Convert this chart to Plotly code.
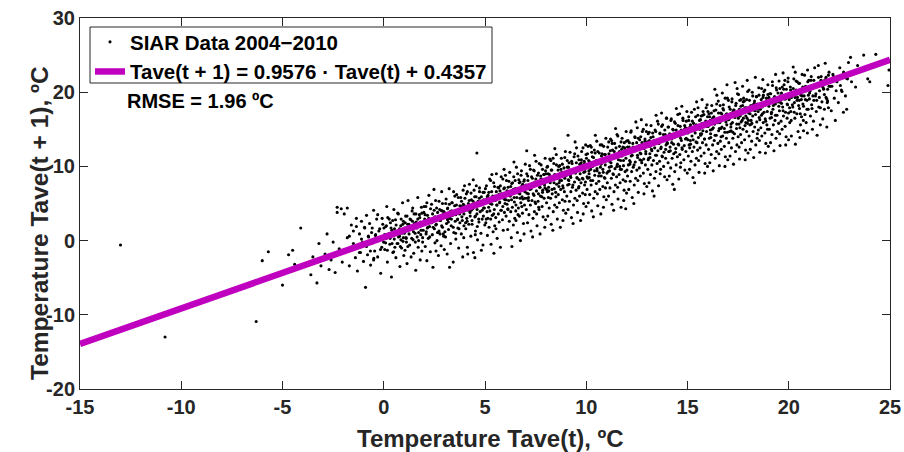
import plotly.graph_objects as go

# Fit coefficients (from legend) and RMSE
fit_slope = 0.9576
fit_intercept = 0.4357
fit_x_range = [-15, 25]
rmse_text = "RMSE = 1.96 ºC"
series_name = "SIAR Data 2004\u22122010"
fit_name = "Tave(t + 1) = 0.9576 \u00b7 Tave(t) + 0.4357"
x_title = "Temperature Tave(t), ºC"
y_title = "Temperature Tave(t + 1), ºC"

x_ticks = [-15, -10, -5, 0, 5, 10, 15, 20, 25]
y_ticks = [-20, -10, 0, 10, 20, 30]

# SIAR daily mean temperature pairs (Tave(t), Tave(t+1))
siar_pairs = [
(-13.0,-0.6),(-10.8,-13.0),(-6.3,-10.9),(-6.0,-2.7),(-5.7,-1.5),(-5.0,-6.0),(-4.7,-1.9),(-4.5,-1.3),(-4.4,-3.2),(-4.1,1.7),(-3.6,-4.6),(-3.3,-5.7),(-3.5,-2.2),(-3.2,-0.4),(-3.1,-3.4),
(-2.9,-1.8),(-2.8,0.9),(-2.7,-3.9),(-2.6,-2.6),(-2.5,-0.2),(-2.4,-4.3),(-2.3,4.5),(-2.3,3.8),(-2.2,-1.1),(-2.1,4.3),(-2.05,-2.9),
(-1.95,3.6),(-1.9,-1.4),(-1.8,0.4),(-1.8,4.4),(-1.7,-3.4),(-1.6,2.1),(-1.55,-0.8),(-1.5,1.3),(-1.4,-2.3),(-1.35,3.0),(-1.3,-4.1),(-1.2,0.9),(-1.15,-1.6),(-1.1,2.6),(-1.05,-0.2),(-1.0,-2.8),(-0.9,-6.3),
(-0.95,1.8),(-0.9,-0.7),(-0.85,3.4),(-0.8,-1.9),(-0.75,0.5),(-0.7,2.3),(-0.65,-3.3),(-0.6,1.1),(-0.55,-0.3),(-0.5,4.1),(-0.45,-1.4),(-0.4,0.8),(-0.35,2.9),(-0.3,-2.2),(-0.25,0.1),(-0.2,1.6),(-0.15,-4.4),(-0.1,-0.9),(-0.05,2.2),(-0.02,0.4),(-0.5,-2.6),(-0.3,3.5),
(0.05,-1.2),(0.1,1.9),(0.12,0.3),(0.18,-2.9),(0.2,3.1),(0.25,0.9),(0.3,-0.5),(0.33,2.4),(0.38,-4.9),(0.4,1.4),(0.45,-1.6),(0.5,4.2),(0.52,0.2),(0.58,2.8),(0.6,-2.3),(0.65,1.0),(0.7,-0.4),(0.72,3.6),(0.78,0.6),(0.8,-3.5),(0.84,2.0),(0.88,-1.0),(0.9,1.3),(0.93,5.1),(0.95,-0.1),(0.97,2.6),(0.99,-2.0),(0.15,4.6),(0.55,-0.9),(0.85,0.1),
(1.02,1.7),(1.05,-1.3),(1.08,3.3),(1.1,0.4),(1.15,-3.1),(1.18,2.2),(1.2,5.4),(1.25,0.9),(1.28,-0.6),(1.3,2.9),(1.35,-2.2),(1.38,1.5),(1.4,4.0),(1.45,0.1),(1.48,-1.7),(1.5,3.6),(1.55,1.0),(1.58,-4.0),(1.6,2.5),(1.65,0.5),(1.68,5.8),(1.7,-0.9),(1.75,1.9),(1.78,3.1),(1.8,-2.6),(1.83,0.8),(1.86,4.5),(1.9,2.2),(1.92,-0.2),(1.95,1.4),(1.98,3.8),(1.12,-0.2),(1.42,2.6),(1.72,0.0),(1.88,-1.4),
(2.02,2.9),(2.05,-0.8),(2.08,4.6),(2.1,1.2),(2.13,-2.7),(2.16,3.4),(2.2,0.3),(2.23,6.1),(2.26,1.9),(2.3,-1.5),(2.33,2.6),(2.36,4.9),(2.4,0.8),(2.43,-3.6),(2.46,3.0),(2.5,1.6),(2.53,-0.3),(2.56,5.4),(2.6,2.2),(2.63,0.0),(2.66,3.8),(2.7,-2.0),(2.73,1.3),(2.76,4.2),(2.8,2.7),(2.83,-0.7),(2.86,6.6),(2.9,1.8),(2.93,3.5),(2.96,0.6),(2.99,-1.2),(2.15,1.7),(2.38,2.9),(2.58,-1.4),(2.78,0.9),(2.88,4.0),(2.48,6.9),(2.68,1.1),
(3.02,3.7),(3.05,0.5),(3.08,5.6),(3.1,2.3),(3.13,-1.8),(3.16,4.4),(3.2,1.5),(3.23,7.0),(3.26,3.0),(3.3,-0.4),(3.33,2.0),(3.36,5.1),(3.4,3.4),(3.43,-2.9),(3.46,1.1),(3.5,4.7),(3.53,2.6),(3.56,0.2),(3.6,6.2),(3.63,3.9),(3.66,1.7),(3.7,-1.0),(3.73,4.1),(3.76,2.4),(3.8,5.8),(3.83,0.9),(3.86,3.2),(3.9,-2.2),(3.93,4.9),(3.96,2.0),(3.99,7.4),(3.15,2.8),(3.35,4.0),(3.55,1.0),(3.75,3.6),(3.95,0.4),(3.45,6.6),(3.65,2.9),(3.25,-3.6),(3.85,4.6),
(4.02,4.5),(4.05,1.6),(4.08,6.3),(4.1,3.0),(4.13,-0.9),(4.15,-1.8),(4.18,5.0),(4.2,2.2),(4.23,7.6),(4.26,3.8),(4.3,0.6),(4.33,5.5),(4.36,2.7),(4.4,4.3),(4.43,-1.6),(4.46,6.8),(4.5,-2.3),(4.5,3.2),(4.53,1.3),(4.56,5.9),(4.6,11.8),(4.6,3.6),(4.63,0.1),(4.66,4.8),(4.7,2.5),(4.73,7.1),(4.76,3.9),(4.8,1.0),(4.83,5.3),(4.86,2.9),(4.9,-0.6),(4.93,4.4),(4.96,6.5),(4.99,2.1),(4.12,2.6),(4.32,4.1),(4.52,0.8),(4.72,5.7),(4.92,3.3),(4.42,8.2),(4.62,1.9),(4.82,-1.3),
(5.02,5.3),(5.04,2.4),(5.07,7.4),(5.1,3.9),(5.12,0.7),(5.15,6.1),(5.18,4.5),(5.2,1.8),(5.23,8.3),(5.26,5.0),(5.28,2.9),(5.3,-0.5),(5.33,6.6),(5.36,3.4),(5.38,5.6),(5.4,1.2),(5.43,7.8),(5.46,4.2),(5.48,2.0),(5.5,6.0),(5.53,3.1),(5.56,9.0),(5.58,4.8),(5.6,0.3),(5.63,5.9),(5.66,3.6),(5.68,7.1),(5.7,2.5),(5.73,5.2),(5.76,-0.9),(5.78,4.1),(5.8,8.6),(5.83,6.3),(5.86,2.8),(5.88,4.6),(5.9,1.4),(5.93,7.0),(5.96,3.8),(5.98,5.5),(5.14,3.0),(5.34,8.9),(5.54,1.6),(5.74,6.7),(5.94,9.6),(5.44,-1.7),
(6.02,6.4),(6.04,3.3),(6.06,8.1),(6.09,4.9),(6.12,1.5),(6.14,7.2),(6.17,5.4),(6.2,2.6),(6.22,9.2),(6.25,6.0),(6.27,3.9),(6.3,0.4),(6.32,7.7),(6.35,4.5),(6.37,6.8),(6.4,2.1),(6.42,8.6),(6.45,5.2),(6.47,3.0),(6.5,7.0),(6.52,4.0),(6.55,9.9),(6.57,5.8),(6.6,1.1),(6.62,6.9),(6.65,4.4),(6.67,8.2),(6.7,3.3),(6.72,6.3),(6.75,0.0),(6.77,5.1),(6.8,9.4),(6.82,7.4),(6.85,3.7),(6.87,5.6),(6.9,2.3),(6.92,8.0),(6.95,4.8),(6.97,6.6),(6.99,10.3),(6.13,4.3),(6.33,-0.8),(6.53,2.7),(6.73,7.9),(6.93,0.9),(6.43,10.6),(6.63,3.5),(6.83,5.9),
(7.02,7.3),(7.04,4.2),(7.06,9.0),(7.08,5.7),(7.1,2.4),(7.06,12.1),(7.12,8.1),(7.14,6.3),(7.17,3.5),(7.2,10.1),(7.22,6.9),(7.24,4.8),(7.27,1.3),(7.3,8.6),(7.32,5.4),(7.34,7.6),(7.37,3.0),(7.4,9.5),(7.42,6.1),(7.44,3.9),(7.47,7.9),(7.5,5.0),(7.52,10.7),(7.54,6.7),(7.57,2.0),(7.6,7.8),(7.62,5.3),(7.64,9.1),(7.67,4.2),(7.7,7.2),(7.72,0.9),(7.74,6.0),(7.77,10.2),(7.8,8.3),(7.82,4.6),(7.84,6.5),(7.87,3.2),(7.9,8.9),(7.92,5.7),(7.94,7.5),(7.97,11.1),(7.99,2.8),(7.15,5.8),(7.35,0.5),(7.55,3.6),(7.75,8.7),(7.95,1.8),(7.45,11.5),(7.65,4.5),(7.85,6.8),
(8.02,8.2),(8.04,5.1),(8.06,9.9),(8.08,6.6),(8.1,3.3),(8.12,9.0),(8.14,7.2),(8.17,4.4),(8.2,11.0),(8.22,7.8),(8.24,5.7),(8.27,2.2),(8.3,9.5),(8.32,6.3),(8.34,8.5),(8.37,3.9),(8.4,10.4),(8.42,7.0),(8.44,4.8),(8.47,8.8),(8.5,5.9),(8.52,11.6),(8.54,7.6),(8.57,2.9),(8.6,8.7),(8.62,6.2),(8.64,10.0),(8.67,5.1),(8.7,8.1),(8.72,1.8),(8.74,6.9),(8.77,11.1),(8.8,9.2),(8.82,5.5),(8.84,7.4),(8.87,4.1),(8.9,9.8),(8.92,6.6),(8.94,8.4),(8.97,12.0),(8.99,3.7),(8.15,6.7),(8.35,1.4),(8.45,12.4),(8.55,4.5),(8.65,7.3),(8.75,9.6),(8.85,2.7),(8.95,5.3),(8.25,10.8),
(9.02,9.1),(9.04,6.0),(9.06,10.8),(9.08,7.5),(9.1,4.2),(9.1,14.2),(9.12,9.9),(9.14,8.1),(9.17,5.3),(9.2,11.9),(9.22,8.7),(9.24,6.6),(9.27,3.1),(9.3,10.4),(9.32,7.2),(9.34,9.4),(9.37,4.8),(9.4,11.3),(9.42,7.9),(9.44,5.7),(9.47,9.7),(9.5,6.8),(9.52,12.5),(9.54,8.5),(9.57,3.8),(9.6,9.6),(9.62,7.1),(9.64,10.9),(9.67,6.0),(9.7,9.0),(9.72,2.7),(9.74,7.8),(9.77,12.0),(9.8,10.1),(9.82,6.4),(9.84,8.3),(9.87,5.0),(9.9,10.7),(9.92,7.5),(9.94,9.3),(9.97,12.9),(9.99,4.6),(9.15,7.6),(9.35,2.3),(9.45,13.3),(9.55,5.4),(9.65,8.2),(9.75,10.5),(9.85,3.6),(9.95,6.2),
(10.02,10.0),(10.04,6.9),(10.06,11.7),(10.08,8.4),(10.1,5.1),(10.12,10.8),(10.14,9.0),(10.17,6.2),(10.2,12.8),(10.22,9.6),(10.24,7.5),(10.27,4.0),(10.3,11.3),(10.32,8.1),(10.34,10.3),(10.37,5.7),(10.4,12.2),(10.42,8.8),(10.44,6.6),(10.47,10.6),(10.5,7.7),(10.52,13.4),(10.54,9.4),(10.57,4.7),(10.6,10.5),(10.62,8.0),(10.64,11.8),(10.67,6.9),(10.7,9.9),(10.72,3.6),(10.74,8.7),(10.77,12.9),(10.8,11.0),(10.82,7.3),(10.84,9.2),(10.87,5.9),(10.9,11.6),(10.92,8.4),(10.94,10.2),(10.97,13.8),(10.99,5.5),(10.15,8.5),(10.35,3.2),(10.45,14.2),(10.55,6.3),(10.65,9.1),(10.75,11.4),(10.85,4.5),(10.95,7.1),(10.25,12.6),
(11.02,10.9),(11.04,7.8),(11.06,12.6),(11.08,9.3),(11.1,6.0),(11.12,11.7),(11.14,9.9),(11.17,7.1),(11.2,13.7),(11.22,10.5),(11.24,8.4),(11.27,4.9),(11.3,12.2),(11.32,9.0),(11.34,11.2),(11.37,6.6),(11.4,13.1),(11.42,9.7),(11.44,7.5),(11.47,11.5),(11.5,8.6),(11.52,14.3),(11.54,10.3),(11.57,5.6),(11.6,11.4),(11.62,8.9),(11.64,12.7),(11.67,7.8),(11.7,10.8),(11.72,4.5),(11.74,9.6),(11.77,13.8),(11.8,11.9),(11.82,8.2),(11.84,10.1),(11.87,6.8),(11.9,12.5),(11.92,9.3),(11.95,4.3),(11.97,14.7),(11.99,6.4),(11.15,9.4),(11.35,4.1),(11.45,15.1),(11.55,7.2),(11.65,10.0),(11.75,12.3),(11.85,5.4),(11.94,8.0),(11.25,13.5),
(12.02,11.8),(12.04,8.7),(12.06,13.5),(12.08,10.2),(12.1,6.9),(12.12,12.6),(12.14,10.8),(12.17,8.0),(12.2,14.6),(12.22,11.4),(12.24,9.3),(12.27,5.8),(12.3,13.1),(12.32,9.9),(12.34,12.1),(12.37,7.5),(12.4,14.0),(12.42,10.6),(12.44,8.4),(12.47,12.4),(12.5,9.5),(12.52,15.2),(12.54,11.2),(12.57,6.5),(12.6,12.3),(12.62,9.8),(12.64,13.6),(12.67,8.7),(12.7,11.7),(12.72,16.3),(12.74,10.5),(12.77,14.7),(12.8,12.8),(12.82,9.1),(12.84,11.0),(12.87,7.7),(12.9,13.4),(12.92,10.2),(12.94,12.0),(12.97,15.6),(12.99,7.3),(12.15,10.3),(12.35,5.0),(12.45,16.0),(12.55,8.1),(12.65,10.9),(12.75,13.2),(12.85,6.3),
(13.02,12.7),(13.04,9.6),(13.06,14.4),(13.08,11.1),(13.1,7.8),(13.12,13.5),(13.14,11.7),(13.17,8.9),(13.2,15.5),(13.22,12.3),(13.24,10.2),(13.27,6.7),(13.3,14.0),(13.32,10.8),(13.34,13.0),(13.37,8.4),(13.4,14.9),(13.42,11.5),(13.44,9.3),(13.47,13.3),(13.5,10.4),(13.52,16.1),(13.54,12.1),(13.57,7.4),(13.6,13.2),(13.62,10.7),(13.64,14.5),(13.67,9.6),(13.7,12.6),(13.72,17.2),(13.74,11.4),(13.77,15.6),(13.8,13.7),(13.82,10.0),(13.84,11.9),(13.87,8.6),(13.9,14.3),(13.92,11.1),(13.94,12.9),(13.97,16.5),(13.99,8.2),(13.15,11.2),(13.35,6.0),(13.45,16.9),(13.65,9.0),(13.85,14.0),
(14.02,13.6),(14.04,10.5),(14.06,15.3),(14.08,12.0),(14.1,8.7),(14.12,14.4),(14.14,12.6),(14.17,9.8),(14.2,16.4),(14.22,13.2),(14.24,11.1),(14.27,7.6),(14.3,14.9),(14.32,11.7),(14.34,13.9),(14.37,9.3),(14.4,15.8),(14.42,12.4),(14.44,10.2),(14.47,14.2),(14.5,11.3),(14.52,17.0),(14.54,13.0),(14.57,8.3),(14.6,14.1),(14.62,11.6),(14.64,15.4),(14.67,10.5),(14.7,13.5),(14.72,18.1),(14.74,12.3),(14.77,16.5),(14.8,14.6),(14.82,10.9),(14.84,12.8),(14.87,9.5),(14.9,15.2),(14.92,12.0),(14.94,13.8),(14.97,17.4),(14.99,9.1),(14.15,12.1),(14.35,6.9),(14.45,17.8),(14.65,9.9),(14.85,15.0),
(15.02,14.5),(15.04,11.4),(15.06,16.2),(15.08,12.9),(15.1,9.6),(15.12,15.3),(15.14,13.5),(15.17,10.7),(15.2,17.3),(15.22,14.1),(15.24,12.0),(15.27,8.5),(15.3,15.8),(15.32,12.6),(15.34,14.8),(15.37,10.2),(15.4,16.7),(15.42,13.3),(15.44,11.1),(15.47,15.1),(15.5,12.2),(15.52,17.9),(15.54,13.9),(15.57,9.2),(15.6,15.0),(15.62,12.5),(15.64,16.3),(15.67,11.4),(15.7,14.4),(15.72,19.0),(15.74,13.2),(15.77,17.4),(15.8,15.5),(15.82,11.8),(15.84,13.7),(15.87,10.4),(15.9,16.1),(15.92,12.9),(15.94,14.7),(15.97,18.3),(15.99,10.0),(15.15,13.0),(15.35,7.8),(15.45,18.7),(15.55,10.8),(15.65,14.2),(15.75,16.9),(15.85,9.1),
(16.02,15.4),(16.04,12.3),(16.06,17.1),(16.08,13.8),(16.1,10.5),(16.12,16.2),(16.14,14.4),(16.17,11.6),(16.2,18.2),(16.22,15.0),(16.24,12.9),(16.27,9.4),(16.3,16.7),(16.32,13.5),(16.34,15.7),(16.37,11.1),(16.4,17.6),(16.42,14.2),(16.44,12.0),(16.47,16.0),(16.5,13.1),(16.52,18.8),(16.54,14.8),(16.57,10.1),(16.6,15.9),(16.62,13.4),(16.64,17.2),(16.67,12.3),(16.7,15.3),(16.72,19.9),(16.74,14.1),(16.77,18.3),(16.8,16.4),(16.82,12.7),(16.84,14.6),(16.87,11.3),(16.9,17.0),(16.92,13.8),(16.94,15.6),(16.97,19.2),(16.99,10.9),(16.15,13.9),(16.35,20.4),(16.45,19.6),(16.55,11.7),(16.65,15.1),(16.75,17.8),(16.85,10.0),(16.95,21.0),(16.25,16.5),
(17.02,16.3),(17.04,13.2),(17.06,18.0),(17.08,14.7),(17.1,11.4),(17.12,17.1),(17.14,15.3),(17.17,12.5),(17.2,19.1),(17.22,15.9),(17.24,13.8),(17.27,10.3),(17.3,17.6),(17.32,14.4),(17.34,16.6),(17.37,12.0),(17.4,18.5),(17.42,15.1),(17.44,12.9),(17.47,16.9),(17.5,14.0),(17.52,19.7),(17.54,15.7),(17.57,11.0),(17.6,16.8),(17.62,14.3),(17.64,18.1),(17.67,13.2),(17.7,16.2),(17.72,20.8),(17.74,15.0),(17.77,19.2),(17.8,17.3),(17.82,13.6),(17.84,15.5),(17.87,12.2),(17.9,17.9),(17.92,14.7),(17.94,16.5),(17.97,20.1),(17.99,11.8),(17.15,14.8),(17.35,21.3),(17.45,20.5),(17.55,12.6),(17.65,16.0),(17.75,18.7),(17.85,10.9),(17.95,21.6),(17.25,17.4),(17.58,18.9),(17.88,15.9),
(18.02,17.2),(18.04,14.1),(18.06,18.9),(18.08,15.6),(18.1,12.3),(18.12,18.0),(18.14,16.2),(18.17,13.4),(18.2,20.0),(18.22,16.8),(18.24,14.7),(18.27,11.2),(18.3,18.5),(18.32,15.3),(18.34,17.5),(18.37,12.9),(18.4,19.4),(18.42,16.0),(18.44,13.8),(18.47,17.8),(18.5,14.9),(18.52,20.6),(18.54,16.6),(18.57,11.9),(18.6,17.7),(18.62,15.2),(18.64,19.0),(18.67,14.1),(18.7,17.1),(18.72,21.7),(18.74,15.9),(18.77,20.1),(18.8,18.2),(18.82,14.5),(18.84,16.4),(18.87,13.1),(18.9,18.8),(18.92,15.6),(18.94,17.4),(18.97,21.0),(18.99,12.7),(18.15,15.7),(18.35,22.0),(18.45,14.4),(18.55,13.5),(18.65,16.9),(18.75,19.6),(18.85,11.8),(18.95,15.0),(18.25,18.3),
(19.02,18.1),(19.04,15.0),(19.06,19.8),(19.08,16.5),(19.1,13.2),(19.12,18.9),(19.14,17.1),(19.17,14.3),(19.2,20.9),(19.22,17.7),(19.24,15.6),(19.27,12.1),(19.3,19.4),(19.32,16.2),(19.34,18.4),(19.37,13.8),(19.4,20.3),(19.42,16.9),(19.44,14.7),(19.47,18.7),(19.5,15.8),(19.52,21.5),(19.54,17.5),(19.57,12.8),(19.6,18.6),(19.62,16.1),(19.64,19.9),(19.67,15.0),(19.7,18.0),(19.72,22.6),(19.74,16.8),(19.77,21.0),(19.8,19.1),(19.82,15.4),(19.84,17.3),(19.87,14.0),(19.9,19.7),(19.92,16.5),(19.94,18.3),(19.97,21.9),(19.99,13.6),(19.15,16.6),(19.35,22.4),(19.55,14.4),(19.75,20.4),(19.85,12.9),
(20.02,19.0),(20.05,15.9),(20.08,20.7),(20.1,17.4),(20.13,14.1),(20.16,19.8),(20.2,18.0),(20.22,23.4),(20.25,21.8),(20.28,18.6),(20.3,16.5),(20.33,13.0),(20.36,20.3),(20.4,17.1),(20.43,19.3),(20.46,14.7),(20.5,21.2),(20.53,17.8),(20.55,13.9),(20.58,15.6),(20.6,19.6),(20.63,16.7),(20.66,22.4),(20.7,18.4),(20.73,14.8),(20.76,19.5),(20.8,17.0),(20.83,20.8),(20.86,15.9),(20.9,18.9),(20.93,23.0),(20.96,17.7),(20.99,21.6),(20.12,16.2),(20.32,22.7),(20.52,18.9),(20.72,16.2),(20.92,14.5),(20.42,21.4),(20.62,19.0),
(21.03,19.9),(21.07,16.8),(21.1,21.6),(21.13,18.3),(21.17,15.0),(21.2,20.7),(21.24,18.9),(21.28,23.3),(21.32,19.5),(21.36,17.4),(21.4,14.2),(21.44,21.2),(21.48,18.0),(21.52,20.2),(21.56,15.6),(21.6,22.1),(21.64,18.7),(21.68,16.4),(21.72,20.5),(21.76,17.7),(21.8,23.9),(21.84,19.3),(21.88,15.3),(21.92,20.4),(21.96,17.9),(21.99,22.7),(21.22,16.1),(21.46,23.6),(21.7,21.5),(21.9,18.6),
(22.05,20.8),(22.1,17.5),(22.18,22.4),(22.25,19.2),(22.3,16.2),(22.38,21.4),(22.45,18.6),(22.52,23.3),(22.6,20.3),(22.7,17.3),(22.8,19.5),(22.86,17.7),(22.9,21.8),(22.95,24.0),
(23.05,24.7),(23.1,21.4),(23.3,20.7),(23.4,23.6),(23.7,25.0),(23.9,21.8),(24.0,21.4),(24.3,25.1),(24.9,20.9),(24.95,23.0),
]

# Denser core of the cloud close to the fitted line
siar_core_pairs = [
(-1.9,-1.2),(-1.7,0.6),(-1.5,-0.4),(-1.35,1.9),(-1.2,-1.6),(-1.1,0.2),
(-0.94,1.7),(-0.85,-0.8),(-0.76,0.6),(-0.66,-1.4),(-0.57,1.7),(-0.49,-2.4),(-0.41,0.7),(-0.32,0.1),(-0.24,1.3),(-0.16,-1.2),(-0.08,3.0),(-0.01,-0.2),
(0.04,0.8),(0.09,-0.3),(0.13,2.0),(0.18,-1.3),(0.22,0.8),(0.27,2.9),(0.31,0.3),(0.36,1.7),(0.41,-0.4),(0.44,2.7),(0.49,-1.5),(0.53,1.6),(0.57,0.9),(0.61,2.1),(0.66,-0.4),(0.69,3.7),(0.73,0.5),(0.78,1.6),(0.82,-0.8),(0.86,2.9),(0.9,1.0),(0.94,2.2),(0.97,0.4),(0.01,1.7),
(1.06,2.4),(1.11,0.3),(1.15,3.3),(1.19,-0.8),(1.24,2.2),(1.28,1.6),(1.34,2.8),(1.38,0.3),(1.43,4.4),(1.47,1.2),(1.51,2.3),(1.56,-0.2),(1.59,3.6),(1.64,1.7),(1.68,2.9),(1.72,1.1),(1.76,3.5),(1.81,2.5),(1.84,1.4),(1.88,3.7),(1.92,0.4),(1.96,2.5),(1.99,4.6),(1.02,1.0),
(2.04,3.5),(2.09,0.9),(2.13,5.1),(2.18,1.8),(2.22,3.0),(2.27,0.5),(2.31,4.3),(2.36,2.4),(2.41,3.6),(2.44,1.8),(2.49,4.1),(2.53,3.2),(2.57,2.1),(2.61,4.4),(2.66,1.1),(2.69,3.1),(2.73,5.3),(2.78,2.7),(2.82,4.1),(2.86,2.0),(2.9,5.0),(2.94,0.9),(2.97,3.9),(2.01,2.3),
(3.06,5.0),(3.11,3.1),(3.15,4.3),(3.19,2.5),(3.24,4.9),(3.28,3.9),(3.34,2.9),(3.38,5.1),(3.43,1.8),(3.47,3.9),(3.51,6.0),(3.56,3.5),(3.59,4.8),(3.64,2.8),(3.68,5.8),(3.72,1.6),(3.76,4.7),(3.81,4.0),(3.84,5.3),(3.88,2.7),(3.92,6.8),(3.96,3.6),(3.99,4.7),(3.02,1.2),
(4.04,2.4),(4.09,4.5),(4.13,6.6),(4.18,4.1),(4.22,5.4),(4.27,3.3),(4.31,6.4),(4.36,2.2),(4.41,5.3),(4.44,4.6),(4.49,5.9),(4.53,3.3),(4.57,7.4),(4.61,4.2),(4.66,5.3),(4.69,2.9),(4.73,6.6),(4.78,4.8),(4.82,5.9),(4.86,4.1),(4.9,6.5),(4.94,5.5),(4.97,4.4),(4.01,5.7),
(5.06,2.9),(5.11,5.9),(5.15,5.3),(5.19,6.5),(5.24,4.0),(5.28,8.1),(5.34,4.9),(5.38,6.0),(5.43,3.6),(5.47,7.3),(5.51,5.4),(5.56,6.6),(5.59,4.8),(5.64,7.2),(5.68,6.2),(5.72,5.1),(5.76,7.4),(5.81,4.1),(5.84,6.2),(5.88,8.3),(5.92,5.7),(5.96,7.1),(5.99,5.0),(5.02,7.0),
(6.04,5.5),(6.09,6.7),(6.13,4.2),(6.18,8.0),(6.22,6.1),(6.27,7.3),(6.31,5.5),(6.36,7.8),(6.41,6.9),(6.44,5.8),(6.49,8.1),(6.53,4.8),(6.57,6.9),(6.61,9.0),(6.66,6.4),(6.69,7.8),(6.73,5.7),(6.78,8.8),(6.82,4.6),(6.86,7.6),(6.9,7.0),(6.94,8.2),(6.97,5.7),(6.01,8.8),
(7.06,6.4),(7.11,8.7),(7.15,5.4),(7.19,7.4),(7.24,9.6),(7.28,7.0),(7.34,8.4),(7.38,6.3),(7.43,9.4),(7.47,5.2),(7.51,8.3),(7.56,7.6),(7.59,8.8),(7.64,6.3),(7.68,10.4),(7.72,7.2),(7.76,8.3),(7.81,5.9),(7.84,9.6),(7.88,7.7),(7.92,8.9),(7.96,7.1),(7.99,9.4),(7.02,7.5),
(8.04,6.9),(8.09,10.0),(8.13,5.8),(8.18,8.9),(8.22,8.2),(8.27,9.5),(8.31,6.9),(8.36,11.1),(8.41,7.8),(8.44,8.9),(8.49,6.5),(8.53,10.2),(8.57,8.4),(8.61,9.5),(8.66,7.8),(8.69,10.1),(8.73,9.1),(8.78,8.1),(8.82,10.3),(8.86,7.1),(8.9,9.1),(8.94,11.2),(8.97,8.7),(8.01,9.0),
(9.06,9.9),(9.11,8.2),(9.15,10.5),(9.19,9.5),(9.24,8.5),(9.28,10.7),(9.34,7.5),(9.38,9.5),(9.43,11.7),(9.47,9.1),(9.51,10.5),(9.56,8.4),(9.59,11.4),(9.64,7.3),(9.68,10.3),(9.72,9.7),(9.76,10.9),(9.81,8.4),(9.84,12.5),(9.88,9.2),(9.92,10.4),(9.96,7.9),(9.99,11.6),(9.02,8.8),
(10.04,8.6),(10.09,12.7),(10.13,9.4),(10.18,10.6),(10.22,8.1),(10.27,11.9),(10.31,10.0),(10.36,11.2),(10.41,9.4),(10.44,11.8),(10.49,10.8),(10.53,9.7),(10.57,12.0),(10.61,8.7),(10.66,10.8),(10.69,12.9),(10.73,10.3),(10.78,11.7),(10.82,9.6),(10.86,12.7),(10.9,8.5),(10.94,11.6),(10.97,10.9),(10.01,11.1),
(11.06,11.1),(11.11,13.3),(11.15,10.7),(11.19,12.1),(11.24,10.0),(11.28,13.1),(11.34,8.9),(11.38,12.0),(11.43,11.3),(11.47,12.5),(11.51,10.0),(11.56,14.1),(11.59,10.9),(11.64,12.0),(11.68,9.6),(11.72,13.3),(11.76,11.4),(11.81,12.6),(11.84,10.8),(11.88,13.2),(11.92,12.2),(11.96,11.1),(11.99,13.4),(11.02,9.1),
(12.04,12.6),(12.09,11.9),(12.13,13.2),(12.18,10.6),(12.22,14.8),(12.27,11.5),(12.31,12.6),(12.36,10.2),(12.41,13.9),(12.44,12.1),(12.49,13.2),(12.53,11.5),(12.57,13.8),(12.61,12.8),(12.66,11.8),(12.69,14.0),(12.73,10.8),(12.78,12.8),(12.82,15.0),(12.86,12.4),(12.9,13.7),(12.94,11.7),(12.97,14.7),(12.01,9.5),
(13.06,10.9),(13.11,14.6),(13.15,12.7),(13.19,13.9),(13.24,12.1),(13.28,14.5),(13.34,13.5),(13.38,12.5),(13.43,14.7),(13.47,11.5),(13.51,13.5),(13.56,15.7),(13.59,13.1),(13.64,14.4),(13.68,12.4),(13.72,15.4),(13.76,11.3),(13.81,14.3),(13.84,13.6),(13.88,14.9),(13.92,12.3),(13.96,16.5),(13.99,13.2),(13.02,13.3),
(14.04,15.3),(14.09,12.0),(14.13,14.1),(14.18,16.2),(14.22,13.7),(14.27,15.0),(14.31,13.0),(14.36,16.0),(14.41,11.9),(14.44,14.9),(14.49,14.2),(14.53,15.5),(14.57,12.9),(14.61,17.1),(14.66,13.8),(14.69,14.9),(14.73,12.5),(14.78,16.2),(14.82,14.4),(14.86,15.5),(14.9,13.7),(14.94,16.1),(14.97,15.1),(14.01,13.1),
(15.06,16.7),(15.11,12.5),(15.15,15.6),(15.19,14.9),(15.24,16.1),(15.28,13.6),(15.34,17.7),(15.38,14.5),(15.43,15.6),(15.47,13.2),(15.51,16.9),(15.56,15.1),(15.59,16.2),(15.64,14.4),(15.68,16.8),(15.72,15.8),(15.76,14.8),(15.81,17.0),(15.84,13.7),(15.88,15.8),(15.92,17.9),(15.96,15.4),(15.99,16.7),(15.02,13.6),
(16.04,15.5),(16.09,16.7),(16.13,14.9),(16.18,17.2),(16.22,16.3),(16.27,15.2),(16.31,17.5),(16.36,14.2),(16.41,16.3),(16.44,18.4),(16.49,15.9),(16.53,17.2),(16.57,15.1),(16.61,18.2),(16.66,14.0),(16.69,17.1),(16.73,16.4),(16.78,17.6),(16.82,15.1),(16.86,19.2),(16.9,16.0),(16.94,17.1),(16.97,14.6),(16.01,17.4),
(17.06,16.4),(17.11,17.7),(17.15,15.7),(17.19,18.7),(17.24,14.6),(17.28,17.6),(17.34,17.0),(17.38,18.2),(17.43,15.7),(17.47,19.8),(17.51,16.5),(17.56,17.7),(17.59,15.2),(17.64,19.0),(17.68,17.1),(17.72,18.2),(17.76,16.5),(17.81,18.8),(17.84,17.9),(17.88,16.8),(17.92,19.0),(17.96,15.8),(17.99,17.8),(17.02,18.9),
(18.04,20.3),(18.09,17.1),(18.13,18.2),(18.18,15.8),(18.22,19.5),(18.27,17.6),(18.31,18.8),(18.36,17.0),(18.41,19.4),(18.44,18.4),(18.49,17.4),(18.53,19.6),(18.57,16.3),(18.61,18.4),(18.66,20.5),(18.69,18.0),(18.73,19.3),(18.78,17.3),(18.82,20.3),(18.86,16.1),(18.9,19.2),(18.94,18.5),(18.97,19.7),(18.01,16.2),
(19.06,18.6),(19.11,19.8),(19.15,17.3),(19.19,21.4),(19.24,18.2),(19.28,19.3),(19.34,16.9),(19.38,20.6),(19.43,18.8),(19.47,19.9),(19.51,18.1),(19.56,20.5),(19.59,19.5),(19.64,18.5),(19.68,20.7),(19.72,17.5),(19.76,19.5),(19.81,21.6),(19.84,19.1),(19.88,20.4),(19.92,18.4),(19.96,21.4),(19.99,17.2),(19.02,19.3),
(20.04,17.9),(20.09,20.3),(20.13,19.3),(20.18,18.3),(20.22,20.5),(20.27,17.3),(20.31,19.3),(20.36,21.5),(20.41,18.9),(20.44,20.2),(20.49,18.2),(20.53,21.2),(20.57,17.1),(20.61,20.1),(20.66,19.5),(20.69,20.7),(20.73,18.1),(20.78,22.3),(20.82,19.0),(20.86,20.2),(20.9,17.7),(20.94,21.4),(20.97,19.6),(20.01,19.7),
(21.06,20.2),(21.15,17.8),(21.24,21.6),(21.34,19.8),(21.43,21.0),(21.51,19.3),(21.59,21.6),(21.68,20.7),(21.76,19.7),(21.84,22.0),(21.92,18.8),(21.99,20.8),(21.11,22.1),(21.19,19.5),(21.28,20.9),(21.38,18.9),(21.47,22.0),(21.56,17.9),(21.64,21.0),(21.72,20.4),(21.81,21.7),(21.88,19.1),(21.96,22.3),(21.02,19.1),
(22.13,20.8),(22.21,22.1),(22.34,20.2),(22.42,22.1),(22.55,20.9),(22.63,20.1),(22.71,22.7),(22.84,21.9),
]

tave_t = [p[0] for p in siar_pairs + siar_core_pairs]
tave_t1 = [p[1] for p in siar_pairs + siar_core_pairs]

fit_y = [fit_slope * x + fit_intercept for x in fit_x_range]

AX = "#262626"
FONT = "Liberation Sans, Arial, sans-serif"

# plot-area geometry in pixels
L, R, T, B = 80, 14, 18, 63
W, H = 904, 452
PW, PH = W - L - R, H - T - B


def px_x(px):
    return (px - L) / PW


def px_y(py):
    return (H - B - py) / PH


fig = go.Figure()
fig.add_trace(go.Scatter(
    x=tave_t, y=tave_t1, mode="markers", name=series_name,
    marker=dict(color="black", size=3.1, line=dict(width=0)),
))
fig.add_trace(go.Scatter(
    x=fit_x_range, y=fit_y, mode="lines", name=fit_name,
    line=dict(color="#BF00BF", width=6.5),
))

axis_common = dict(
    showline=True, linecolor=AX, linewidth=1, mirror="allticks",
    ticks="inside", ticklen=8, tickcolor=AX, tickwidth=1,
    showgrid=False, zeroline=False, automargin=False,
    tickfont=dict(family=FONT, size=20, color=AX, weight="bold"),
)

fig.update_layout(
    width=W, height=H,
    margin=dict(l=L, r=R, t=T, b=B),
    paper_bgcolor="white", plot_bgcolor="white",
    font=dict(family=FONT, color=AX),
    xaxis=dict(range=[-15, 25], tickvals=x_ticks, ticktext=[str(v) for v in x_ticks],
               **axis_common),
    yaxis=dict(range=[-20, 30], tickvals=y_ticks, ticktext=[str(v) for v in y_ticks],
               **axis_common),
    legend=dict(
        x=px_x(90), y=px_y(22), xanchor="left", yanchor="top",
        bgcolor="rgba(0,0,0,0)", borderwidth=0,
        font=dict(family=FONT, size=20.5, color="black", weight="bold"),
        itemwidth=30, tracegroupgap=0,
    ),
    showlegend=True,
    shapes=[dict(
        type="rect", xref="paper", yref="paper",
        x0=px_x(90), x1=px_x(492), y0=px_y(83), y1=px_y(27),
        line=dict(color=AX, width=1), fillcolor="rgba(0,0,0,0)", layer="above",
    )],
)

# axis titles
fig.add_annotation(
    xref="paper", yref="paper", x=px_x(490), y=px_y(438),
    xanchor="center", yanchor="middle", showarrow=False,
    text="<b>" + x_title + "</b>", font=dict(family=FONT, size=24, color=AX),
)
fig.add_annotation(
    xref="paper", yref="paper", x=px_x(39), y=px_y(223),
    xanchor="center", yanchor="middle", showarrow=False, textangle=-90,
    text="<b>" + y_title + "</b>", font=dict(family=FONT, size=24.5, color=AX),
)
# RMSE note
fig.add_annotation(
    xref="paper", yref="paper", x=px_x(126), y=px_y(101),
    xanchor="left", yanchor="middle", showarrow=False, borderpad=0,
    text="<b>" + rmse_text + "</b>",
    font=dict(family=FONT, size=20, color="black"),
)

fig.write_html("out.html")
